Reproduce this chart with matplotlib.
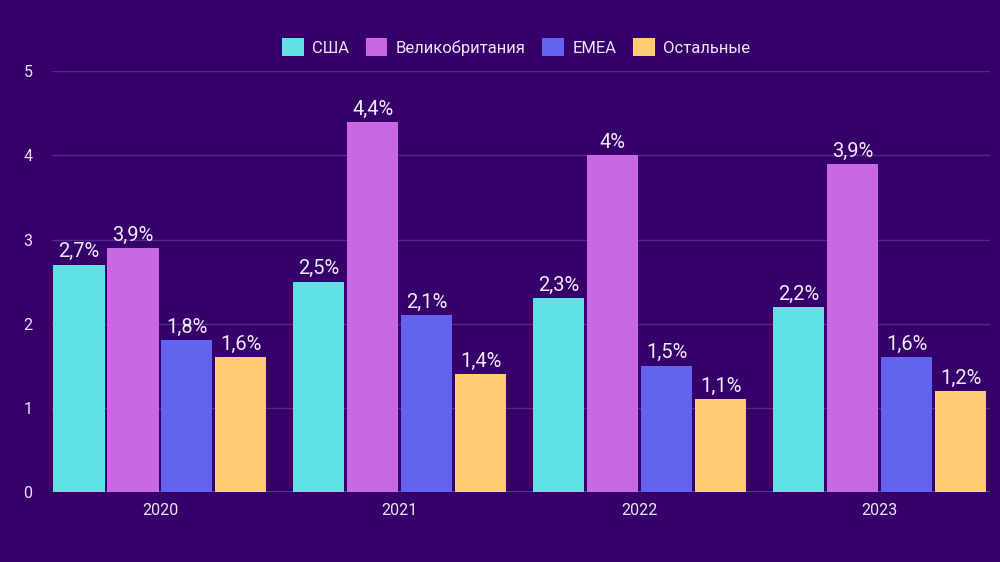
import matplotlib
matplotlib.use("Agg")
import matplotlib.pyplot as plt
import numpy as np

plt.rcParams['font.family'] = ['Roboto', 'DejaVu Sans']

years = ['2020', '2021', '2022', '2023']
series = ['США', 'Великобритания', 'EMEA', 'Остальные']
values = [
    [2.7, 2.5, 2.3, 2.2],   # США
    [2.9, 4.4, 4.0, 3.9],   # Великобритания
    [1.8, 2.1, 1.5, 1.6],   # EMEA
    [1.6, 1.4, 1.1, 1.2],   # Остальные
]
labels = [
    ['2,7%', '2,5%', '2,3%', '2,2%'],
    ['3,9%', '4,4%', '4%', '3,9%'],
    ['1,8%', '2,1%', '1,5%', '1,6%'],
    ['1,6%', '1,4%', '1,1%', '1,2%'],
]
colors = ['#5EE2E6', '#C968E3', '#6364EE', '#FECB73']

bg = '#36006A'
fig = plt.figure(figsize=(10, 5.62), dpi=100, facecolor=bg)
ax = fig.add_axes([0.052, 0.125, 0.938, 0.748])
ax.set_facecolor(bg)

x = np.arange(len(years))
step = 0.225
width = 0.213
for i, (name, vals) in enumerate(zip(series, values)):
    pos = x + (i - 1.5) * step
    ax.bar(pos, vals, width, color=colors[i], label=name, zorder=3)
    for px, v, t in zip(pos, vals, labels[i]):
        ax.text(px, v + 0.04, t, ha='center', va='bottom', color='#F2ECF8',
                fontsize=14.5, zorder=4)

ax.set_xlim(-0.45, 3.46)
ax.set_ylim(0, 5)
ax.set_yticks(range(6))
ax.set_xticks(x)
ax.set_xticklabels(years)
ax.tick_params(colors='#EDE6F5', labelsize=11.5, length=0)
ax.tick_params(axis='y', pad=14)
ax.tick_params(axis='x', pad=8)
ax.grid(axis='y', color='#55278A', linewidth=1, zorder=0)
for s in ax.spines.values():
    s.set_visible(False)
ax.axhline(0, color='#6A3C99', linewidth=1.2, zorder=2)

leg = fig.legend(loc='center', bbox_to_anchor=(0.516, 0.916), ncol=4, frameon=False,
                 fontsize=12, handlelength=1.3, handleheight=1.3, columnspacing=1.0,
                 handletextpad=0.5)
for t in leg.get_texts():
    t.set_color('#EDE6F5')

fig.savefig('out.png', dpi=100, facecolor=bg)
